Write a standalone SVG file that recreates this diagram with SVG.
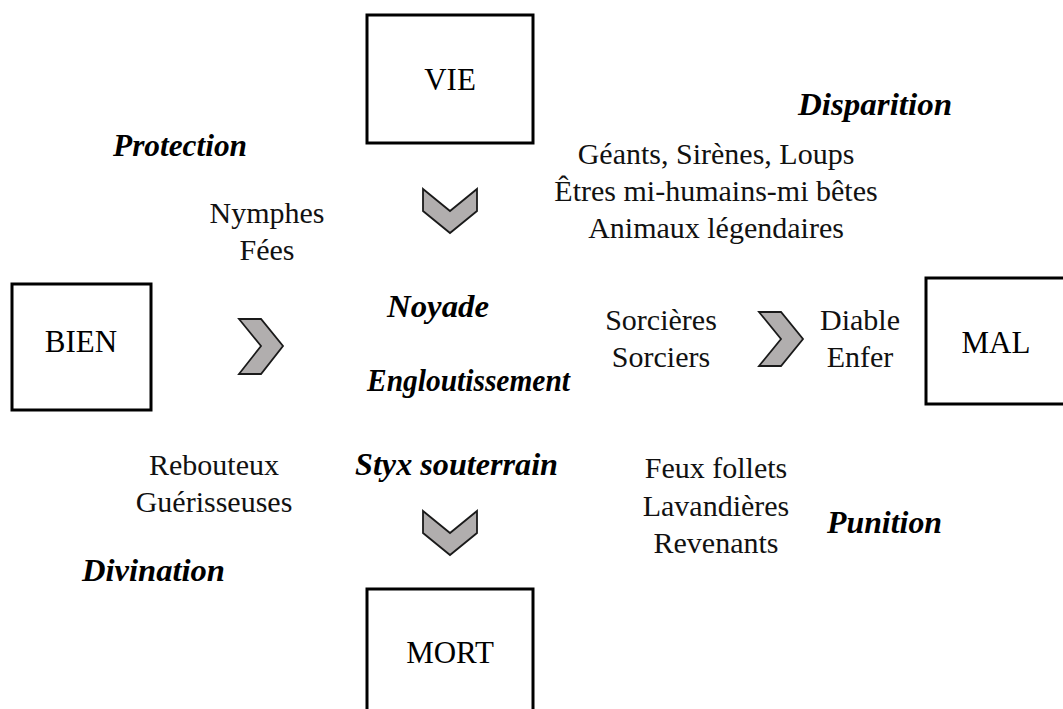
<svg xmlns="http://www.w3.org/2000/svg" width="1063" height="709" viewBox="0 0 1063 709">
<style>
.box{fill:#fff;stroke:#000;stroke-width:3}
.lbl{font-family:"Liberation Serif","Times New Roman",serif;font-size:31px;fill:#000;text-anchor:middle}
.txt{font-family:"Liberation Serif","Times New Roman",serif;font-size:30px;fill:#111;text-anchor:middle}
.scr{font-family:"Liberation Serif","Times New Roman",serif;font-size:31px;font-style:italic;font-weight:bold;fill:#000}
.chev{fill:#b1aeae;stroke:#1a1a1a;stroke-width:1.8;stroke-linejoin:miter}
</style>
<rect width="1063" height="709" fill="#fff"/>
<g id="vie"><rect class="box" x="367" y="15" width="166" height="128"/><text class="lbl" x="450" y="90">VIE</text></g>
<g id="bien"><rect class="box" x="12" y="284" width="139" height="126"/><text class="lbl" x="81" y="352">BIEN</text></g>
<g id="mal"><rect class="box" x="926" y="278" width="140" height="126"/><text class="lbl" x="996" y="353">MAL</text></g>
<g id="mort"><rect class="box" x="367" y="589" width="166" height="140"/><text class="lbl" x="450" y="663">MORT</text></g>
<g id="connectors">
<polygon class="chev" points="423,189 450,211 477,189 477,211 450,233 423,211"/>
<polygon class="chev" points="423,511 450,533 477,511 477,533 450,555 423,533"/>
<polygon class="chev" points="239,319 261,319 283,346 261,374 239,374 261,346"/>
<polygon class="chev" points="759,312 781,312 803,339 781,366 759,366 781,339"/>
</g>
<g id="labels">
<text class="scr" x="113" y="156" textLength="134" lengthAdjust="spacingAndGlyphs">Protection</text>
<text class="scr" x="798" y="115" textLength="154" lengthAdjust="spacingAndGlyphs">Disparition</text>
<text class="scr" x="387" y="317" textLength="102" lengthAdjust="spacingAndGlyphs">Noyade</text>
<text class="scr" x="367" y="391" textLength="203" lengthAdjust="spacingAndGlyphs">Engloutissement</text>
<text class="scr" x="355" y="475" textLength="203" lengthAdjust="spacingAndGlyphs">Styx souterrain</text>
<text class="scr" x="82" y="581" textLength="143" lengthAdjust="spacingAndGlyphs">Divination</text>
<text class="scr" x="827" y="533" textLength="115" lengthAdjust="spacingAndGlyphs">Punition</text>
</g>
<g id="groups">
<text class="txt" x="267" y="223">Nymphes</text>
<text class="txt" x="267" y="260">Fées</text>
<text class="txt" x="716" y="164">Géants, Sirènes, Loups</text>
<text class="txt" x="716" y="201">Êtres mi-humains-mi bêtes</text>
<text class="txt" x="716" y="238">Animaux légendaires</text>
<text class="txt" x="661" y="330">Sorcières</text>
<text class="txt" x="661" y="367">Sorciers</text>
<text class="txt" x="860" y="330">Diable</text>
<text class="txt" x="860" y="367">Enfer</text>
<text class="txt" x="214" y="475">Rebouteux</text>
<text class="txt" x="214" y="512">Guérisseuses</text>
<text class="txt" x="716" y="478">Feux follets</text>
<text class="txt" x="716" y="516">Lavandières</text>
<text class="txt" x="716" y="553">Revenants</text>
</g>
</svg>
